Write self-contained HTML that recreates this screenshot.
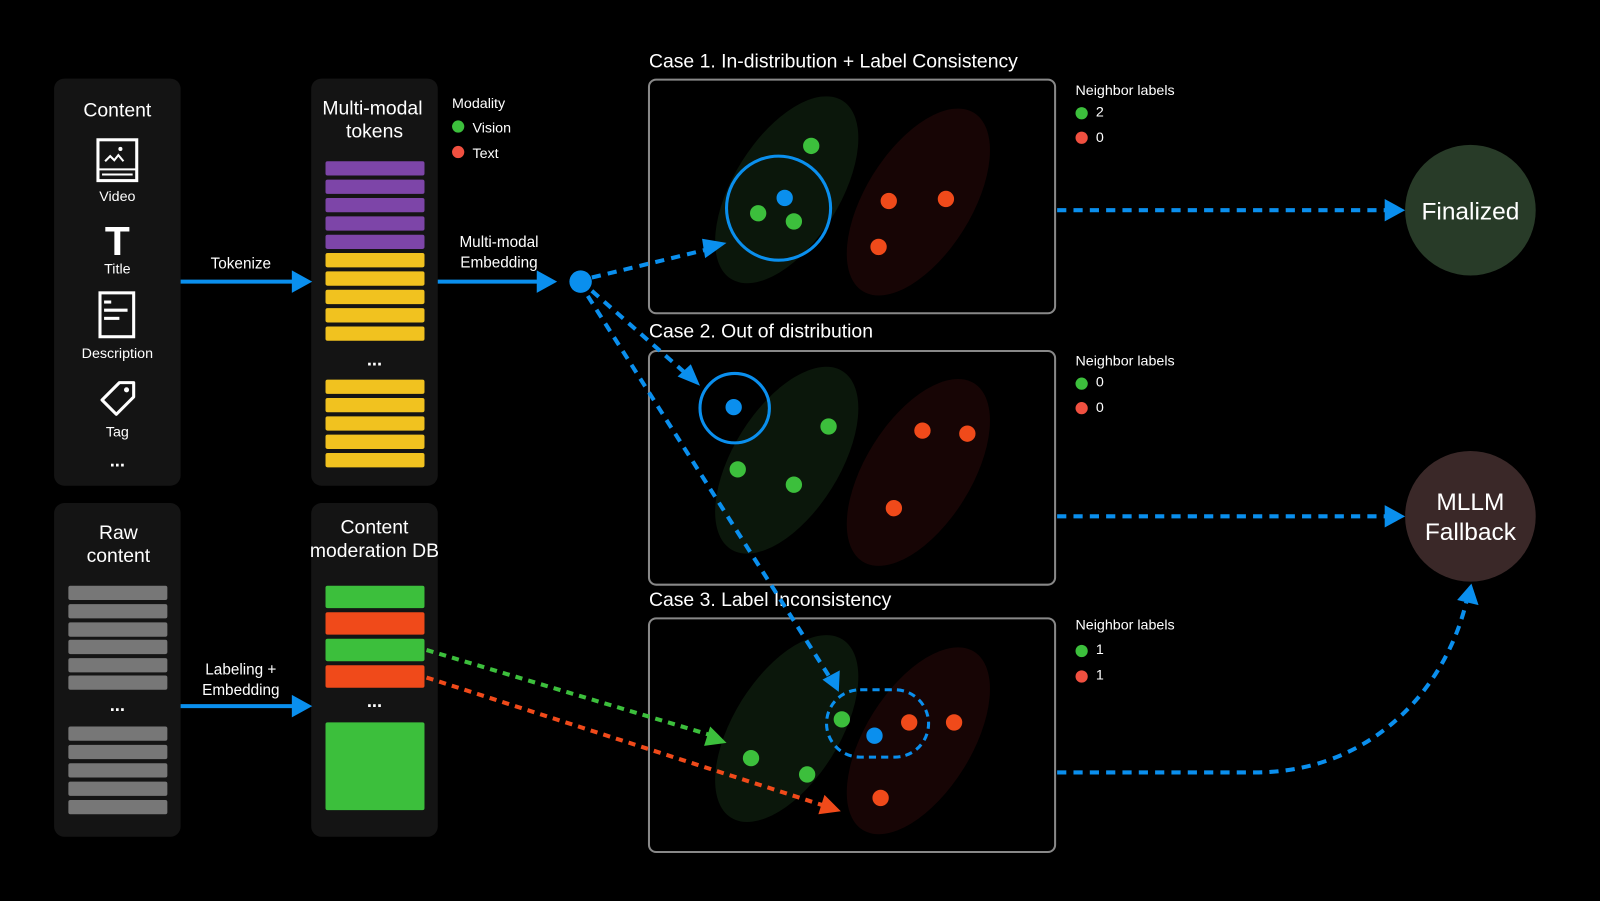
<!DOCTYPE html>
<html><head><meta charset="utf-8"><style>
html,body{margin:0;padding:0;background:#000;width:1600px;height:901px;overflow:hidden}
svg{display:block}
text{font-family:"Liberation Sans","DejaVu Sans",sans-serif;fill:#fff}
</style></head><body>
<svg width="1600" height="901" viewBox="0 0 1568 883" preserveAspectRatio="none" xmlns="http://www.w3.org/2000/svg">
<rect width="1568" height="883" fill="#000"/>
<rect x="53" y="77" width="124" height="399" rx="10" fill="#141414"/>
<rect x="305" y="77" width="124" height="399" rx="10" fill="#141414"/>
<rect x="53" y="493" width="124" height="327" rx="10" fill="#141414"/>
<rect x="305" y="493" width="124" height="327" rx="10" fill="#141414"/>

<text x="115" y="114" font-size="19" text-anchor="middle">Content</text>
<rect x="96" y="137" width="38" height="40" fill="none" stroke="#fff" stroke-width="3"/>
<line x1="96" y1="166" x2="134" y2="166" stroke="#fff" stroke-width="2"/>
<line x1="100" y1="171" x2="130" y2="171" stroke="#fff" stroke-width="2"/>
<polyline points="103,158 108,153 112,157 116,152 121,158" fill="none" stroke="#fff" stroke-width="2"/>
<circle cx="118" cy="146" r="2" fill="#fff"/>
<text x="115" y="197" font-size="14" text-anchor="middle">Video</text>
<text x="115" y="250" font-size="40" font-weight="bold" text-anchor="middle" font-family="Liberation Serif">T</text>
<text x="115" y="268" font-size="14" text-anchor="middle">Title</text>
<rect x="98" y="287" width="33" height="43" fill="none" stroke="#fff" stroke-width="3"/>
<line x1="102" y1="296" x2="109" y2="296" stroke="#fff" stroke-width="3"/>
<line x1="102" y1="304" x2="125" y2="304" stroke="#fff" stroke-width="3"/>
<line x1="102" y1="312" x2="117" y2="312" stroke="#fff" stroke-width="3"/>
<text x="115" y="351" font-size="14" text-anchor="middle">Description</text>
<path d="M100,392 L117,375 L131,375 L131,389 L114,406 Z" fill="none" stroke="#fff" stroke-width="3" stroke-linejoin="round"/>
<circle cx="124" cy="382" r="2.5" fill="#fff"/>
<text x="115" y="428" font-size="14" text-anchor="middle">Tag</text>
<text x="115" y="457" font-size="18" text-anchor="middle" font-weight="bold">...</text>

<text x="365" y="112" font-size="19" text-anchor="middle">Multi-modal</text>
<text x="367" y="135" font-size="19" text-anchor="middle">tokens</text>
<g fill="#7d45a8">
<rect x="319" y="158" width="97" height="14" rx="2"/><rect x="319" y="176" width="97" height="14" rx="2"/><rect x="319" y="194" width="97" height="14" rx="2"/><rect x="319" y="212" width="97" height="14" rx="2"/><rect x="319" y="230" width="97" height="14" rx="2"/>
</g>
<g fill="#f1c21f">
<rect x="319" y="248" width="97" height="14" rx="2"/><rect x="319" y="266" width="97" height="14" rx="2"/><rect x="319" y="284" width="97" height="14" rx="2"/><rect x="319" y="302" width="97" height="14" rx="2"/><rect x="319" y="320" width="97" height="14" rx="2"/>
<rect x="319" y="372" width="97" height="14" rx="2"/><rect x="319" y="390" width="97" height="14" rx="2"/><rect x="319" y="408" width="97" height="14" rx="2"/><rect x="319" y="426" width="97" height="14" rx="2"/><rect x="319" y="444" width="97" height="14" rx="2"/>
</g>
<text x="367" y="358" font-size="18" text-anchor="middle" font-weight="bold">...</text>

<text x="443" y="106" font-size="14">Modality</text>
<circle cx="449" cy="124" r="6" fill="#3cbf3c"/><text x="463" y="130" font-size="14">Vision</text>
<circle cx="449" cy="149" r="6" fill="#f05040"/><text x="463" y="155" font-size="14">Text</text>

<text x="116" y="528" font-size="19" text-anchor="middle">Raw</text>
<text x="116" y="551" font-size="19" text-anchor="middle">content</text>
<g fill="#777">
<rect x="67" y="574" width="97" height="14" rx="2"/><rect x="67" y="592" width="97" height="14" rx="2"/><rect x="67" y="610" width="97" height="14" rx="2"/><rect x="67" y="627" width="97" height="14" rx="2"/><rect x="67" y="645" width="97" height="14" rx="2"/><rect x="67" y="662" width="97" height="14" rx="2"/>
<rect x="67" y="712" width="97" height="14" rx="2"/><rect x="67" y="730" width="97" height="14" rx="2"/><rect x="67" y="748" width="97" height="14" rx="2"/><rect x="67" y="766" width="97" height="14" rx="2"/><rect x="67" y="784" width="97" height="14" rx="2"/>
</g>
<text x="115" y="697" font-size="18" text-anchor="middle" font-weight="bold">...</text>

<text x="367" y="523" font-size="19" text-anchor="middle" font-family="Liberation Serif">Content</text>
<text x="367" y="546" font-size="19" text-anchor="middle" font-family="Liberation Serif">moderation DB</text>
<rect x="319" y="574" width="97" height="22" rx="2" fill="#3cbf3c"/>
<rect x="319" y="600" width="97" height="22" rx="2" fill="#f04a1a"/>
<rect x="319" y="626" width="97" height="22" rx="2" fill="#3cbf3c"/>
<rect x="319" y="652" width="97" height="22" rx="2" fill="#f04a1a"/>
<text x="367" y="693" font-size="18" text-anchor="middle" font-weight="bold">...</text>
<rect x="319" y="708" width="97" height="86" rx="2" fill="#3cbf3c"/>

<g stroke="#0a8fee" stroke-width="4" fill="none">
<line x1="177" y1="276" x2="290" y2="276"/>
<line x1="429" y1="276" x2="530" y2="276"/>
<line x1="177" y1="692" x2="290" y2="692"/>
</g>
<g fill="#0a8fee">
<polygon points="286,265 306,276 286,287"/>
<polygon points="526,265 546,276 526,287"/>
<polygon points="286,681 306,692 286,703"/>
</g>
<text x="236" y="263" font-size="15" text-anchor="middle">Tokenize</text>
<text x="489" y="242" font-size="15" text-anchor="middle">Multi-modal</text>
<text x="489" y="262" font-size="15" text-anchor="middle">Embedding</text>
<text x="236" y="661" font-size="15" text-anchor="middle">Labeling +</text>
<text x="236" y="681" font-size="15" text-anchor="middle">Embedding</text>

<g fill="none" stroke="#888" stroke-width="2">
<rect x="636" y="78" width="398" height="229" rx="7"/>
<rect x="636" y="344" width="398" height="229" rx="7"/>
<rect x="636" y="606" width="398" height="229" rx="7"/>
</g>
<text x="636" y="66" font-size="19">Case 1. In-distribution + Label Consistency</text>
<text x="636" y="331" font-size="19">Case 2. Out of distribution</text>
<text x="636" y="594" font-size="19">Case 3. Label Inconsistency</text>

<g>
<ellipse cx="771" cy="186" rx="52" ry="103" transform="rotate(32 771 186)" fill="#0b170b"/>
<ellipse cx="900" cy="198" rx="52" ry="103" transform="rotate(32 900 198)" fill="#170505"/>
<ellipse cx="771" cy="451" rx="52" ry="103" transform="rotate(32 771 451)" fill="#0b170b"/>
<ellipse cx="900" cy="463" rx="52" ry="103" transform="rotate(32 900 463)" fill="#170505"/>
<ellipse cx="771" cy="714" rx="52" ry="103" transform="rotate(32 771 714)" fill="#0b170b"/>
<ellipse cx="900" cy="726" rx="52" ry="103" transform="rotate(32 900 726)" fill="#170505"/>
</g>
<circle cx="763" cy="204" r="51" fill="none" stroke="#0a8fee" stroke-width="3"/>
<g fill="#3cbf3c"><circle cx="795" cy="143" r="8"/><circle cx="743" cy="209" r="8"/><circle cx="778" cy="217" r="8"/></g>
<circle cx="769" cy="194" r="8" fill="#0a8fee"/>
<g fill="#f04a1a"><circle cx="871" cy="197" r="8"/><circle cx="927" cy="195" r="8"/><circle cx="861" cy="242" r="8"/></g>
<circle cx="720" cy="400" r="34" fill="none" stroke="#0a8fee" stroke-width="3"/>
<circle cx="719" cy="399" r="8" fill="#0a8fee"/>
<g fill="#3cbf3c"><circle cx="812" cy="418" r="8"/><circle cx="723" cy="460" r="8"/><circle cx="778" cy="475" r="8"/></g>
<g fill="#f04a1a"><circle cx="904" cy="422" r="8"/><circle cx="948" cy="425" r="8"/><circle cx="876" cy="498" r="8"/></g>
<rect x="810" y="676" width="100" height="66" rx="33" fill="none" stroke="#0a8fee" stroke-width="3" stroke-dasharray="7 5"/>
<g fill="#3cbf3c"><circle cx="825" cy="705" r="8"/><circle cx="736" cy="743" r="8"/><circle cx="791" cy="759" r="8"/></g>
<circle cx="857" cy="721" r="8" fill="#0a8fee"/>
<g fill="#f04a1a"><circle cx="891" cy="708" r="8"/><circle cx="935" cy="708" r="8"/><circle cx="863" cy="782" r="8"/></g>

<text x="1054" y="93" font-size="14">Neighbor labels</text>
<circle cx="1060" cy="111" r="6" fill="#3cbf3c"/><text x="1074" y="114" font-size="14">2</text>
<circle cx="1060" cy="135" r="6" fill="#f05040"/><text x="1074" y="139" font-size="14">0</text>
<text x="1054" y="358" font-size="14">Neighbor labels</text>
<circle cx="1060" cy="376" r="6" fill="#3cbf3c"/><text x="1074" y="379" font-size="14">0</text>
<circle cx="1060" cy="400" r="6" fill="#f05040"/><text x="1074" y="404" font-size="14">0</text>
<text x="1054" y="617" font-size="14" font-family="Liberation Serif">Neighbor labels</text>
<circle cx="1060" cy="638" r="6" fill="#3cbf3c"/><text x="1074" y="641" font-size="14">1</text>
<circle cx="1060" cy="663" r="6" fill="#f05040"/><text x="1074" y="666" font-size="14">1</text>

<circle cx="569" cy="276" r="11" fill="#0a8fee"/>
<g fill="none" stroke="#0a8fee" stroke-width="4" stroke-dasharray="9 7">
<line x1="580" y1="272" x2="695" y2="244"/>
<line x1="580" y1="285" x2="672" y2="366"/>
<line x1="576" y1="290" x2="812" y2="662"/>
<line x1="1036" y1="206" x2="1360" y2="206"/>
<line x1="1036" y1="506" x2="1360" y2="506"/>
<path d="M1036,757 L1230,757 C1340,757 1415,680 1437,590"/>
</g>
<g fill="#0a8fee">
<polygon points="712,238 691,253 688,234"/>
<polygon points="686,378 664,369 677,357"/>
<polygon points="822,678 806,666 823,657"/>
<polygon points="1357,195 1377,206 1357,217"/>
<polygon points="1357,495 1377,506 1357,517"/>
<polygon points="1442,572 1449,593 1428,588"/>
</g>
<line x1="418" y1="637" x2="695" y2="720" stroke="#3cbf3c" stroke-width="4" stroke-dasharray="7 6"/>
<polygon points="712,728 690,731 696,712" fill="#3cbf3c"/>
<line x1="418" y1="664" x2="806" y2="789" stroke="#f04a1a" stroke-width="4" stroke-dasharray="7 6"/>
<polygon points="824,795 802,798 808,779" fill="#f04a1a"/>

<circle cx="1441" cy="206" r="64" fill="#283b28"/>
<text x="1441" y="215" font-size="24" text-anchor="middle">Finalized</text>
<circle cx="1441" cy="506" r="64" fill="#3a2828"/>
<text x="1441" y="500" font-size="24" text-anchor="middle">MLLM</text>
<text x="1441" y="529" font-size="24" text-anchor="middle">Fallback</text>
</svg>
</body></html>
